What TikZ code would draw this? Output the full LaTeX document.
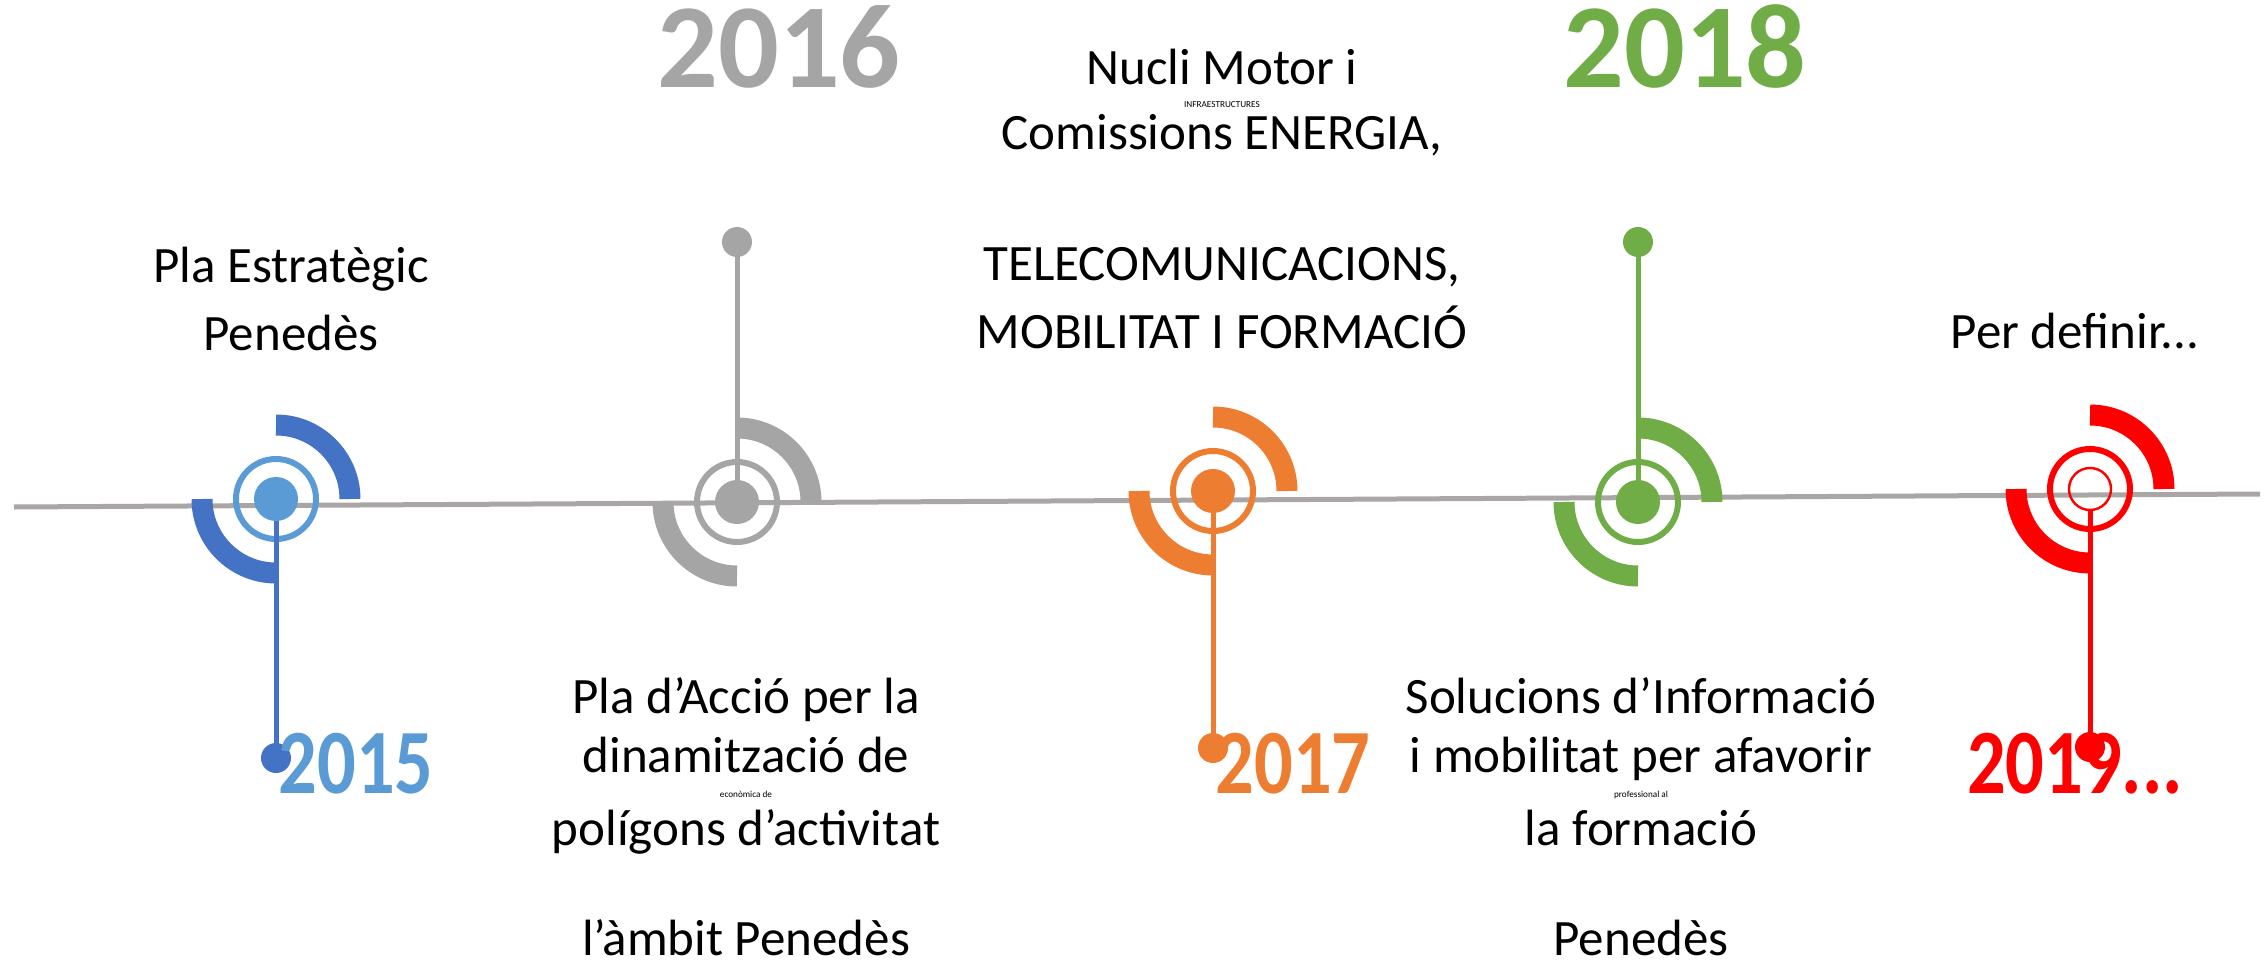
\documentclass[tikz,border=0pt]{standalone}
\usepackage{fontspec}
\setmainfont{Carlito}
\definecolor{tl}{RGB}{170,166,166}
\definecolor{lblue}{RGB}{91,155,213}
\definecolor{dblue}{RGB}{68,114,196}
\definecolor{mgray}{RGB}{165,165,165}
\definecolor{orng}{RGB}{237,125,49}
\definecolor{grn}{RGB}{112,173,71}
\definecolor{rd}{RGB}{255,0,0}
\tikzset{
  body/.style={font=\fontsize{25.5}{30}\selectfont, anchor=base, inner sep=0pt},
  tinytxt/.style={font=\fontsize{4.6}{5}\selectfont, anchor=base, inner sep=0pt},
  yrbig/.style={font=\fontsize{60}{66}\selectfont\bfseries, anchor=base, inner sep=0pt},
  yrsm/.style={font=\fontsize{46}{50}\selectfont\bfseries, anchor=base, inner sep=0pt},
  arcst/.style={line width=10.5pt},
  ringst/.style={line width=3pt},
  stemst/.style={line width=2.5pt},
}
\begin{document}
\begin{tikzpicture}[x=0.5pt,y=-0.5pt]
\useasboundingbox (0,0) rectangle (2267,974);
% timeline
\coordinate (L) at (14,507);
\coordinate (R) at (2260,494);
\draw[tl, line width=2.5pt] (L) -- (R);

% 2015 marker (blue)
\coordinate (m1) at (276,499);
\coordinate (e1) at (276,758);
\draw[arcst, dblue] ([shift={(37pt,0pt)}]m1) arc[start angle=0,end angle=90,radius=37pt];
\draw[arcst, dblue] ([shift={(-37pt,0pt)}]m1) arc[start angle=180,end angle=270,radius=37pt];
\draw[ringst, lblue] (m1) circle[radius=20pt];
\draw[stemst, dblue] (m1) -- (e1);
\fill[lblue] (m1) circle[radius=11pt];
\fill[dblue] (e1) circle[radius=7.5pt];

% 2016 marker (gray)
\coordinate (m2) at (737,502);
\coordinate (e2) at (737,242);
\draw[arcst, mgray] ([shift={(37pt,0pt)}]m2) arc[start angle=0,end angle=90,radius=37pt];
\draw[arcst, mgray] ([shift={(-37pt,0pt)}]m2) arc[start angle=180,end angle=270,radius=37pt];
\draw[ringst, mgray] (m2) circle[radius=20pt];
\draw[stemst, mgray] (m2) -- (e2);
\fill[mgray] (m2) circle[radius=11pt];
\fill[mgray] (e2) circle[radius=7.5pt];

% 2017 marker (orange)
\coordinate (m3) at (1213,491);
\coordinate (e3) at (1213,748);
\draw[arcst, orng] ([shift={(37pt,0pt)}]m3) arc[start angle=0,end angle=90,radius=37pt];
\draw[arcst, orng] ([shift={(-37pt,0pt)}]m3) arc[start angle=180,end angle=270,radius=37pt];
\draw[ringst, orng] (m3) circle[radius=20pt];
\draw[stemst, orng] (m3) -- (e3);
\fill[orng] (m3) circle[radius=11pt];
\fill[orng] (e3) circle[radius=7.5pt];

% 2018 marker (green)
\coordinate (m4) at (1638,502);
\coordinate (e4) at (1638,242);
\draw[arcst, grn] ([shift={(37pt,0pt)}]m4) arc[start angle=0,end angle=90,radius=37pt];
\draw[arcst, grn] ([shift={(-37pt,0pt)}]m4) arc[start angle=180,end angle=270,radius=37pt];
\draw[ringst, grn] (m4) circle[radius=20pt];
\draw[stemst, grn] (m4) -- (e4);
\fill[grn] (m4) circle[radius=11pt];
\fill[grn] (e4) circle[radius=7.5pt];

% 2019 marker (red)
\coordinate (m5) at (2090,489);
\coordinate (m5b) at ([yshift=-10.5pt]m5);
\coordinate (e5) at (2090,747);
\draw[arcst, rd] ([shift={(37pt,0pt)}]m5) arc[start angle=0,end angle=90,radius=37pt];
\draw[arcst, rd] ([shift={(-37pt,0pt)}]m5) arc[start angle=180,end angle=270,radius=37pt];
\draw[ringst, rd] (m5) circle[radius=20pt];
\draw[rd, line width=1.2pt] (m5) circle[radius=10.5pt];
\draw[stemst, rd] (m5b) -- (e5);
\fill[rd] (e5) circle[radius=7.5pt];

% years
\node[yrbig, mgray] (y16) at (779,88) {2016};
\node[yrbig, grn] (y18) at (1685,88) {2018};
\node[yrsm, lblue] (y15) at (356,793) {\scalebox{0.83}[1]{2015}};
\node[yrsm, orng] (y17) at (1293,793) {\scalebox{0.83}[1]{2017}};
\node[yrsm, rd] (y19) at (2075,793) {\scalebox{0.83}[1]{2019...}};

% texts
\node[body] (t1a) at (291,282) {Pla Estratègic};
\node[body] (t1b) at (291,350) {Penedès};

\node[body] (t3a) at (1222,85) {Nucli Motor i};
\node[tinytxt] (t3x) at (1222,108) {INFRAESTRUCTURES};
\node[body] (t3b) at (1222,150) {Comissions ENERGIA,};
\node[body] (t3c) at (1222,280) {TELECOMUNICACIONS,};
\node[body] (t3d) at (1222,348) {MOBILITAT I FORMACIÓ};

\node[body] (t5) at (2075,348) {Per definir...};

\node[body] (t2a) at (746,713) {Pla d’Acció per la};
\node[body] (t2b) at (746,772) {dinamització de};
\node[tinytxt] (t2x) at (746,797) {econòmica de};
\node[body] (t2c) at (746,845) {polígons d’activitat};
\node[body] (t2d) at (746,955) {l’àmbit Penedès};

\node[body] (t4a) at (1641,713) {Solucions d’Informació};
\node[body] (t4b) at (1641,772) {i mobilitat per afavorir};
\node[tinytxt] (t4x) at (1641,797) {professional al};
\node[body] (t4c) at (1641,845) {la formació};
\node[body] (t4d) at (1641,955) {Penedès};
\end{tikzpicture}
\end{document}
